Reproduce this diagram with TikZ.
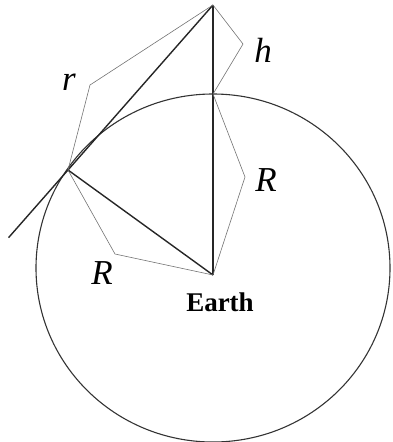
\documentclass[tikz,border=0pt]{standalone}
\usepackage{fontspec}
\setmainfont{Liberation Serif}
\usetikzlibrary{calc}

\begin{document}
\begin{tikzpicture}[x=1pt,y=-1pt,
		heavy/.style={line width=1.4pt,black!85},
		brace/.style={line width=0.6pt,black!55,line join=round},
		lbl/.style={font=\fontsize{35}{35}\selectfont\itshape}]
		\useasboundingbox (0,0) rectangle (392,442);
		\coordinate (S) at (213,5);
		\coordinate (T) at (68,170);
		\coordinate (E) at (213,275);
		\coordinate (P) at (213,94);
		\coordinate (L) at ($(S)!1.41!(T)$);
		\draw[line width=1.1pt,black!80] (213,268) ellipse [x radius=177,y radius=174];
		\draw[heavy] (S) -- (L);
		\draw[heavy] (S) -- (E);
		\draw[heavy] (T) -- (E);
		\draw[brace] (S) -- (243,44) -- (P);
		\draw[brace] (P) -- (245,177) -- (E);
		\draw[brace] (T) -- (115,254) -- (E);
		\draw[brace] (T) -- (90,85) -- (S);
		\node[lbl] (r) at (69,82) {r};
		\node[lbl] (h) at (263,50) {h};
		\node[lbl] (R1) at (266,180) {R};
		\node[lbl] (R2) at (102,273) {R};
		\node[font=\fontsize{27}{27}\selectfont\bfseries] (earth) at (220,302) {Earth};
\end{tikzpicture}
\end{document}
